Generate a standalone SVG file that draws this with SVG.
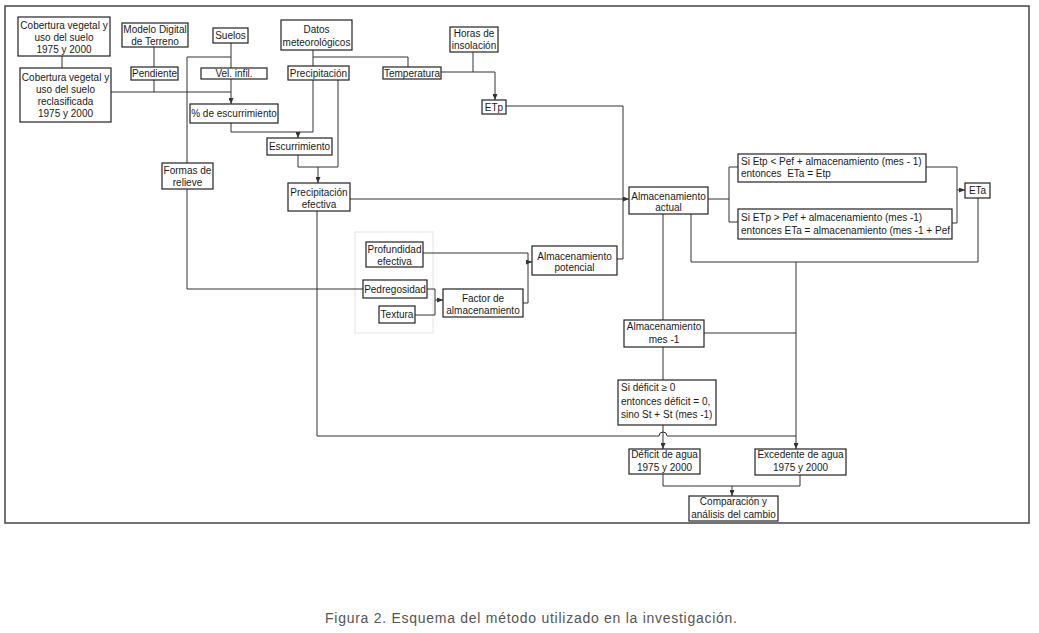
<svg xmlns="http://www.w3.org/2000/svg" width="1039" height="633" viewBox="0 0 1039 633">
<defs>
<style>
.bx{fill:#fff;stroke:#222;stroke-width:1.2}
.t{font-family:"Liberation Sans",Arial,sans-serif;font-size:10px;fill:#1a1a1a;text-anchor:middle}
.tl{font-family:"Liberation Sans",Arial,sans-serif;font-size:10px;fill:#1a1a1a;text-anchor:start}
.c{fill:none;stroke:#333;stroke-width:1}
</style>
<marker id="ar" markerUnits="userSpaceOnUse" markerWidth="6" markerHeight="5" refX="6" refY="2.5" orient="auto">
<path d="M0,0 L6,2.5 L0,5 z" fill="#333"/>
</marker>
</defs>
<rect x="0" y="0" width="1039" height="633" fill="#fff"/>
<rect x="5" y="6" width="1024" height="517" fill="none" stroke="#444" stroke-width="1.5"/>
<rect x="355" y="232" width="78" height="101" fill="none" stroke="#e4e4e4" stroke-width="1"/>

<g id="connectors">
<path class="c" d="M62,56 V68"/>
<path class="c" d="M154,47 V67"/>
<path class="c" d="M154,80 V92"/>
<path class="c" d="M111,92 H231"/>
<path class="c" d="M231,43 V68"/>
<path class="c" d="M231,79 V104" marker-end="url(#ar)"/>
<path class="c" d="M231,57 H187 V163"/>
<path class="c" d="M187,189 V289 H363"/>
<path class="c" d="M313,50 V66"/>
<path class="c" d="M313,57 H408 V67"/>
<path class="c" d="M473,52 V72"/>
<path class="c" d="M441,72 H495 V100" marker-end="url(#ar)"/>
<path class="c" d="M506,106 H623 V259 H617"/>
<path class="c" d="M231,123 V132 H313"/>
<path class="c" d="M313,80 V132"/>
<path class="c" d="M298,132 V138" marker-end="url(#ar)"/>
<path class="c" d="M338,80 V167"/>
<path class="c" d="M298,155 V167 H338"/>
<path class="c" d="M318,167 V183" marker-end="url(#ar)"/>
<path class="c" d="M350,199 H629" marker-end="url(#ar)"/>
<path class="c" d="M317,211 V436 H659 A4,4 0 0 1 667,436 H796"/>
<path class="c" d="M423,253 H528 V303 H523"/>
<path class="c" d="M528,262 H532" marker-end="url(#ar)"/>
<path class="c" d="M427,289 H435 V315 H415"/>
<path class="c" d="M435,300 H443" marker-end="url(#ar)"/>
<path class="c" d="M708,199 H729"/>
<path class="c" d="M738,167 H729 V222 H738"/>
<path class="c" d="M926,167 H957 V223 H952"/>
<path class="c" d="M957,190 H965" marker-end="url(#ar)"/>
<path class="c" d="M978,198 V262 H691 V214"/>
<path class="c" d="M796,262 V449" marker-end="url(#ar)"/>
<path class="c" d="M704,333 H796"/>
<path class="c" d="M663,214 V320"/>
<path class="c" d="M663,347 V380"/>
<path class="c" d="M663,425 V449" marker-end="url(#ar)"/>
<path class="c" d="M663,474 V486 H800 V475"/>
<path class="c" d="M732,486 V496" marker-end="url(#ar)"/>
</g>

<g id="n-cob1"><rect class="bx" x="18" y="17" width="92" height="39"/>
<text class="t" x="64" y="28.5">Cobertura vegetal y</text><text class="t" x="64" y="40.5">uso del suelo</text><text class="t" x="64" y="52.5">1975 y 2000</text></g>
<g id="n-cob2"><rect class="bx" x="20" y="68" width="91" height="54"/>
<text class="t" x="65.5" y="80.5">Cobertura vegetal y</text><text class="t" x="65.5" y="92.5">uso del suelo</text><text class="t" x="65.5" y="105">reclasificada</text><text class="t" x="65.5" y="117">1975 y 2000</text></g>
<g id="n-mdt"><rect class="bx" x="122" y="23" width="66" height="24"/>
<text class="t" x="155" y="32.5">Modelo Digital</text><text class="t" x="155" y="44.5">de Terreno</text></g>
<g id="n-pend"><rect class="bx" x="131" y="67" width="47" height="13"/>
<text class="t" x="154.5" y="77">Pendiente</text></g>
<g id="n-suelos"><rect class="bx" x="213" y="28" width="35" height="15"/>
<text class="t" x="230.5" y="39">Suelos</text></g>
<g id="n-vel"><rect class="bx" x="201" y="68" width="66" height="11"/>
<text class="t" x="234" y="77">Vel. infil.</text></g>
<g id="n-pesc"><rect class="bx" x="190" y="104" width="88" height="19"/>
<text class="t" x="234" y="117">% de escurrimiento</text></g>
<g id="n-datos"><rect class="bx" x="281" y="20" width="71" height="30"/>
<text class="t" x="316.5" y="33">Datos</text><text class="t" x="316.5" y="45.5">meteorológicos</text></g>
<g id="n-prec"><rect class="bx" x="288" y="66" width="61" height="14"/>
<text class="t" x="318.5" y="77">Precipitación</text></g>
<g id="n-temp"><rect class="bx" x="383" y="67" width="58" height="12"/>
<text class="t" x="412" y="76.5">Temperatura</text></g>
<g id="n-horas"><rect class="bx" x="450" y="27" width="48" height="25"/>
<text class="t" x="474" y="36.5">Horas de</text><text class="t" x="474" y="48.5">insolación</text></g>
<g id="n-etp"><rect class="bx" x="482" y="100" width="24" height="14"/>
<text class="t" x="494" y="110.5">ETp</text></g>
<g id="n-esc"><rect class="bx" x="267" y="138" width="65" height="17"/>
<text class="t" x="299.5" y="150">Escurrimiento</text></g>
<g id="n-formas"><rect class="bx" x="162" y="163" width="51" height="26"/>
<text class="t" x="187.5" y="173.5">Formas de</text><text class="t" x="187.5" y="185.5">relieve</text></g>
<g id="n-pef"><rect class="bx" x="288" y="183" width="62" height="28"/>
<text class="t" x="319" y="195.5">Precipitación</text><text class="t" x="319" y="207.5">efectiva</text></g>
<g id="n-prof"><rect class="bx" x="366" y="242" width="57" height="25"/>
<text class="t" x="394.5" y="252.5">Profundidad</text><text class="t" x="394.5" y="264.5">efectiva</text></g>
<g id="n-pedr"><rect class="bx" x="363" y="280" width="64" height="18"/>
<text class="t" x="395" y="292.5">Pedregosidad</text></g>
<g id="n-text"><rect class="bx" x="379" y="306" width="36" height="17"/>
<text class="t" x="397" y="318">Textura</text></g>
<g id="n-factor"><rect class="bx" x="443" y="289" width="80" height="28"/>
<text class="t" x="483" y="301.5">Factor de</text><text class="t" x="483" y="313.5">almacenamiento</text></g>
<g id="n-apot"><rect class="bx" x="532" y="246" width="85" height="29"/>
<text class="t" x="574.5" y="259.5">Almacenamiento</text><text class="t" x="574.5" y="270.5">potencial</text></g>
<g id="n-aact"><rect class="bx" x="629" y="187" width="79" height="27"/>
<text class="t" x="668.5" y="199.5">Almacenamiento</text><text class="t" x="668.5" y="210.5">actual</text></g>
<g id="n-si1"><rect class="bx" x="738" y="154" width="188" height="28"/>
<text class="tl" x="741" y="164.5">Si Etp &lt; Pef + almacenamiento (mes - 1)</text><text class="tl" x="741" y="176.5" xml:space="preserve">entonces  ETa = Etp</text></g>
<g id="n-si2"><rect class="bx" x="738" y="209" width="214" height="30"/>
<text class="tl" x="741" y="220.5">Si ETp &gt; Pef + almacenamiento (mes -1)</text><text class="tl" x="741" y="233.5" textLength="209" lengthAdjust="spacingAndGlyphs">entonces ETa = almacenamiento (mes -1 + Pef</text></g>
<g id="n-eta"><rect class="bx" x="965" y="183" width="25" height="15"/>
<text class="t" x="977.5" y="194">ETa</text></g>
<g id="n-amen"><rect class="bx" x="624" y="320" width="80" height="27"/>
<text class="t" x="664" y="329.5">Almacenamiento</text><text class="t" x="664" y="342.5">mes -1</text></g>
<g id="n-sidef"><rect class="bx" x="618" y="380" width="98" height="45"/>
<text class="tl" x="621" y="391">Si déficit ≥ 0</text><text class="tl" x="621" y="405">entonces déficit = 0,</text><text class="tl" x="621" y="418">sino St + St (mes -1)</text></g>
<g id="n-def"><rect class="bx" x="629" y="449" width="71" height="25"/>
<text class="t" x="664.5" y="458">Déficit de agua</text><text class="t" x="664.5" y="471">1975 y 2000</text></g>
<g id="n-exc"><rect class="bx" x="755" y="449" width="91" height="26"/>
<text class="t" x="800.5" y="458">Excedente de agua</text><text class="t" x="800.5" y="471">1975 y 2000</text></g>
<g id="n-comp"><rect class="bx" x="689" y="496" width="89" height="25"/>
<text class="t" x="733.5" y="505">Comparación y</text><text class="t" x="733.5" y="518">análisis del cambio</text></g>

<text x="531" y="623" font-family="'Liberation Sans',Arial,sans-serif" font-size="14" fill="#555" text-anchor="middle" textLength="412" lengthAdjust="spacing">Figura 2. Esquema del método utilizado en la investigación.</text>
</svg>
